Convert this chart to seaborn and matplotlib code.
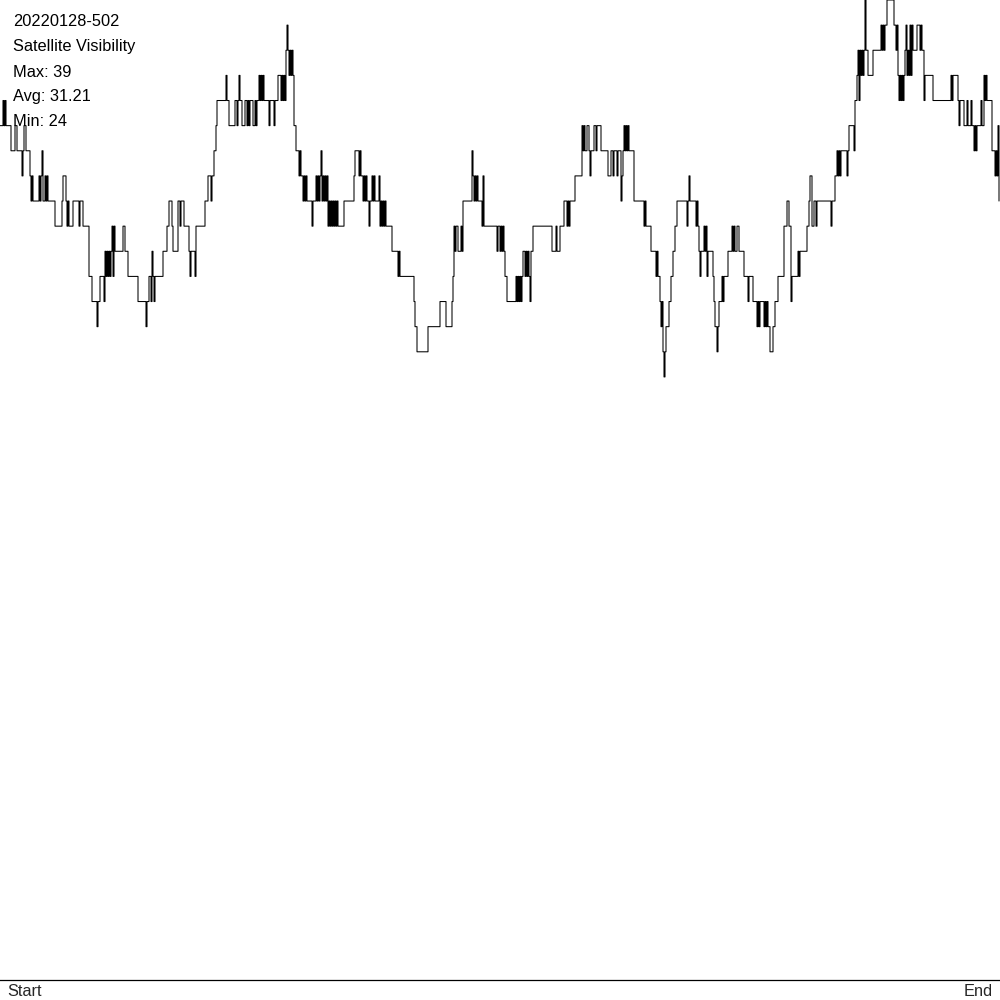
import numpy as np
import pandas as pd
import seaborn as sns
import matplotlib.pyplot as plt


# Satellite visibility step chart (20220128-502)
# values: level and number of samples

title_id = "20220128-502"
title_name = "Satellite Visibility"
stat_lines = ["Max: 39", "Avg: 31.21", "Min: 24"]
x_labels = ["Start", "End"]

levels = [
    # 0-100
    34, 35, 34, 35, 34, 33, 34, 33, 32, 33, 34, 33, 32, 31, 32, 31, 32, 31, 32, 33, 31,
    32, 31, 32, 31, 31, 30, 31, 32, 31, 30, 31, 30, 31, 30, 31, 31, 30, 28, 27, 26, 27,
    # 100-205
    28, 27, 29, 28, 29, 28, 29, 28, 29, 30, 28, 30, 29, 30, 29, 28, 27, 26, 27, 28,
    27, 29, 28, 27, 28, 29, 30, 31, 30, 29, 29, 31, 30, 31, 30, 29, 28, 29, 28, 30,
    # 205-299
    31, 32, 31, 32, 33, 34, 35, 36, 35, 34, 35, 34, 35, 36, 35, 34, 35, 34, 35, 34,
    35, 35, 34, 35, 34, 35, 35, 36, 35, 36, 35, 36, 35, 34, 35, 34, 35, 36, 35, 36,
    35, 36, 35, 37, 38, 37, 36, 37, 36, 37, 36, 34, 33,
    # 299-401
    32, 33, 32, 32, 31, 32, 31, 32, 31, 31, 30, 31, 32, 31, 32, 31, 32, 33, 31, 32,
    31, 32, 31, 32, 30, 31, 30, 31, 30, 31, 30, 31, 30, 31, 30, 31, 32, 33, 32, 33,
    32, 31, 32, 31, 32, 31, 31, 30, 31, 32, 31, 32, 31, 32, 30, 31, 30, 31, 30, 31,
    30, 30, 29, 28, 29, 28,
    # 401-500
    28, 27, 26, 25, 26, 27, 26, 27, 28, 30, 29, 30, 29, 30, 29, 31, 33, 32, 31, 32,
    31, 32, 31, 31, 30, 32, 30, 29, 30,
    # 500-601
    29, 30, 29, 30, 29, 28, 28, 27, 28, 27, 28, 27, 28, 27, 28, 29, 28, 29, 28, 29,
    28, 27, 29, 30, 29, 30, 29, 30, 31, 30, 31, 30, 31, 31, 32, 34, 33, 34, 33, 34,
    33, 32, 33, 34, 33, 34, 34,
    # 601-700
    33, 32, 33, 32, 33, 33, 32, 33, 33, 31, 32, 33, 34, 33, 34, 33, 34, 33, 33, 31,
    30, 31, 30, 29, 28, 29, 28, 28, 27, 26, 27, 25, 24, 25, 26, 27, 28, 29, 30, 31,
    30, 31, 32, 31, 30, 31, 30, 29,
    # 700-801
    28, 29, 30, 29, 30, 28, 29, 28, 27, 26, 25, 26, 27, 28, 27, 28, 29, 30, 29, 30,
    29, 30, 29, 28, 27, 28, 27, 26, 27, 26, 27, 26, 27, 26, 27, 26, 26, 25, 26, 27,
    28, 30, 31, 30, 27, 28, 29, 28, 29,
    # 801-898
    29, 30, 31, 32, 30, 31, 30, 31, 30, 31, 32, 33, 32, 33, 32, 33, 32, 33, 34, 33,
    35, 36, 37, 35, 37, 36, 37, 36, 37, 39, 37, 36, 37, 38, 37, 38, 37, 38, 39, 38,
    37, 38,
    # 898-1000
    36, 35, 36, 35, 36, 35, 36, 37, 38, 36, 37, 36, 38, 36, 38, 37, 38, 37, 38, 37,
    35, 36, 35, 36, 35, 36, 35, 34, 35, 34, 35, 34, 35, 34, 34, 33, 34, 33, 34, 35,
    34, 36, 35, 36, 35, 35, 33, 32, 33, 32, 34, 31,
]

durations = [
    # 0-100
    3, 1, 1, 1, 5, 4, 2, 5, 1, 1, 2, 4, 1, 1, 1, 6, 1, 1, 1, 1, 2,
    1, 1, 1, 1, 6, 7, 1, 3, 1, 1, 1, 4, 6, 1, 1, 2, 6, 3, 5, 1, 2,
    # 100-205
    4, 1, 1, 1, 1, 1, 1, 1, 1, 1, 1, 1, 8, 2, 3, 10, 8, 1, 2, 2,
    1, 1, 1, 1, 8, 4, 2, 3, 1, 1, 4, 2, 1, 3, 5, 1, 1, 4, 1, 9,
    # 205-299
    3, 3, 1, 2, 2, 1, 9, 1, 2, 6, 2, 1, 1, 1, 2, 3, 2, 1, 1, 1,
    1, 2, 2, 1, 1, 1, 1, 1, 1, 1, 1, 1, 5, 1, 4, 1, 3, 3, 1, 1,
    1, 1, 1, 1, 1, 1, 1, 1, 1, 1, 1, 2, 3,
    # 299-401
    1, 1, 1, 1, 1, 1, 1, 1, 1, 4, 1, 3, 1, 1, 1, 1, 1, 1, 1, 1,
    1, 1, 1, 1, 1, 1, 1, 1, 1, 1, 1, 1, 1, 1, 6, 10, 1, 4, 1, 1,
    2, 1, 1, 1, 1, 1, 1, 1, 2, 1, 1, 1, 4, 1, 1, 1, 1, 1, 1, 1,
    1, 5, 6, 1, 1, 1,
    # 401-500
    13, 1, 2, 11, 12, 6, 6, 1, 1, 1, 1, 2, 3, 1, 1, 9, 1, 1, 1, 1,
    1, 1, 1, 3, 1, 1, 13, 1, 2,
    # 500-601
    1, 1, 1, 1, 1, 1, 1, 9, 1, 1, 1, 1, 1, 1, 1, 2, 1, 1, 1, 1,
    1, 1, 2, 19, 4, 1, 3, 4, 3, 1, 1, 1, 1, 4, 7, 1, 1, 1, 2, 2,
    1, 1, 3, 2, 1, 1, 3,
    # 601-700
    7, 3, 2, 1, 1, 2, 1, 1, 2, 1, 1, 1, 1, 1, 1, 1, 1, 1, 4, 10,
    1, 1, 5, 5, 1, 1, 1, 1, 1, 1, 1, 1, 1, 1, 3, 2, 2, 2, 2, 10,
    1, 1, 1, 6, 1, 1, 1, 1,
    # 700-801
    1, 3, 1, 1, 1, 1, 5, 1, 1, 2, 1, 1, 3, 1, 1, 4, 4, 1, 1, 1,
    2, 2, 5, 4, 1, 4, 4, 1, 1, 1, 4, 1, 1, 1, 1, 1, 1, 3, 2, 3,
    6, 3, 2, 2, 1, 6, 1, 1, 1,
    # 801-898
    6, 2, 1, 2, 2, 2, 1, 14, 1, 3, 2, 1, 1, 1, 1, 6, 1, 1, 5, 1,
    2, 1, 1, 1, 1, 1, 1, 1, 1, 1, 2, 5, 8, 1, 1, 1, 1, 2, 7, 2,
    1, 1,
    # 898-1000
    1, 1, 1, 1, 1, 1, 1, 1, 1, 1, 1, 1, 1, 1, 1, 4, 3, 1, 1, 2,
    1, 8, 18, 1, 1, 5, 1, 1, 4, 3, 1, 3, 1, 1, 1, 1, 1, 1, 4, 1,
    2, 1, 1, 1, 1, 4, 3, 1, 1, 1, 1, 1,
]

assert len(levels) == len(durations)

# expand the runs into one value per sample
counts = np.repeat(levels, durations)
df = pd.DataFrame({"sample": np.arange(len(counts)), "sats": counts})

sns.set_style("white")
plt.rcParams['font.family'] = ['Liberation Sans', 'DejaVu Sans']

fig = plt.figure(figsize=(10, 10), dpi=100)
ax = fig.add_axes([0, 0.02, 1, 0.98])

sns.lineplot(data=df, x="sample", y="sats", drawstyle="steps-post", estimator=None,
             color="black", linewidth=0.75, ax=ax, clip_on=False)

ax.set_xlim(0, len(counts))
ax.set_ylim(0, 39)
ax.set_xticks([])
ax.set_yticks([])
ax.set_xlabel("")
ax.set_ylabel("")
for side in ["left", "top", "right"]:
    ax.spines[side].set_visible(False)
ax.spines["bottom"].set_color("black")
ax.spines["bottom"].set_linewidth(0.9)

# header block, top left
header = [title_id, title_name] + stat_lines
for i, line in enumerate(header):
    fig.text(0.013, 0.978 - i * 0.025, line, fontsize=11.8, color="black",
             ha="left", va="center")

fig.text(0.007, 0.009, x_labels[0], fontsize=11.8, ha="left", va="center")
fig.text(0.993, 0.009, x_labels[1], fontsize=11.8, ha="right", va="center")

fig.savefig("out.png", dpi=100, facecolor="white")
plt.close(fig)
